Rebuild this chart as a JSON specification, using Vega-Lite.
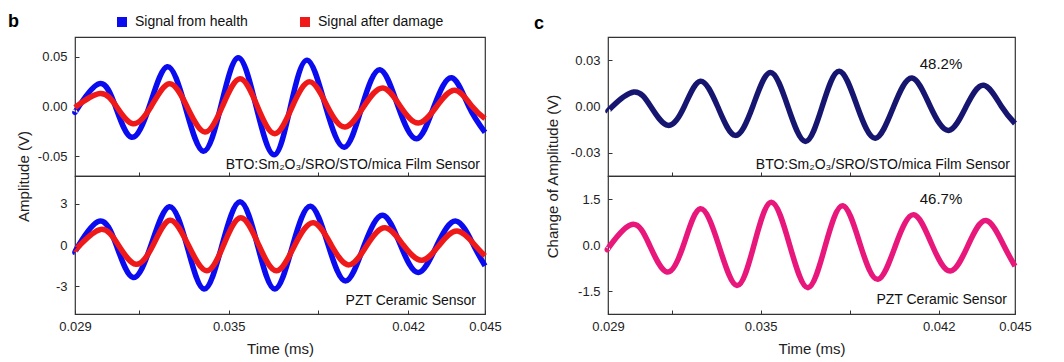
{
  "$schema": "https://vega.github.io/schema/vega-lite/v6.json",
  "padding": {"left": 8, "top": 13, "right": 5, "bottom": 5},
  "background": "white",
  "config": {
    "font": "Liberation Sans",
    "view": {"stroke": "#333", "strokeWidth": 1.2},
    "axis": {"domain": false, "grid": false, "tickSize": -4, "tickColor": "#333", "tickWidth": 1, "labelFont": "Liberation Sans", "labelFontSize": 13, "labelColor": "#222", "titleFont": "Liberation Sans", "titleFontSize": 15, "titleFontWeight": "normal", "titleColor": "#222", "labelFlush": false, "labelOverlap": false},
    "axisY": {"labelPadding": 12, "titlePadding": 6},
    "axisX": {"labelPadding": 10, "titlePadding": 8},
    "text": {"font": "Liberation Sans", "fontSize": 14, "color": "#111", "baseline": "middle"}
  },
  "datasets": {
    "bTopH": [
      {"t": 0.029, "v": -0.0055}, {"t": 0.02915, "v": 0}, {"t": 0.02995, "v": 0.023}, {"t": 0.03058, "v": 0}, {"t": 0.03121, "v": -0.031}, {"t": 0.0319, "v": 0}, {"t": 0.0326, "v": 0.040}, {"t": 0.0333, "v": 0}, {"t": 0.03401, "v": -0.045}, {"t": 0.03469, "v": 0}, {"t": 0.03537, "v": 0.049}, {"t": 0.03607, "v": 0}, {"t": 0.03677, "v": -0.0487}, {"t": 0.03741, "v": 0}, {"t": 0.03806, "v": 0.0467}, {"t": 0.03878, "v": 0}, {"t": 0.03951, "v": -0.041}, {"t": 0.0402, "v": 0}, {"t": 0.0409, "v": 0.037}, {"t": 0.04161, "v": 0}, {"t": 0.04233, "v": -0.0325}, {"t": 0.04301, "v": 0}, {"t": 0.0437, "v": 0.029}, {"t": 0.04437, "v": 0}, {"t": 0.045, "v": -0.026}
    ],
    "bTopD": [
      {"t": 0.029, "v": -0.001}, {"t": 0.02998, "v": 0.013}, {"t": 0.03062, "v": 0}, {"t": 0.03127, "v": -0.0173}, {"t": 0.03197, "v": 0}, {"t": 0.03268, "v": 0.023}, {"t": 0.03337, "v": 0}, {"t": 0.03407, "v": -0.0257}, {"t": 0.03475, "v": 0}, {"t": 0.03544, "v": 0.028}, {"t": 0.03612, "v": 0}, {"t": 0.0368, "v": -0.0274}, {"t": 0.03748, "v": 0}, {"t": 0.03817, "v": 0.0248}, {"t": 0.03885, "v": 0}, {"t": 0.03954, "v": -0.0207}, {"t": 0.04027, "v": 0}, {"t": 0.04101, "v": 0.0187}, {"t": 0.0417, "v": 0}, {"t": 0.0424, "v": -0.0167}, {"t": 0.04311, "v": 0}, {"t": 0.04383, "v": 0.0164}, {"t": 0.0445, "v": 0}, {"t": 0.045, "v": -0.0122}
    ],
    "bBotH": [
      {"t": 0.029, "v": -0.55}, {"t": 0.02915, "v": 0}, {"t": 0.02995, "v": 1.73}, {"t": 0.03061, "v": 0}, {"t": 0.03127, "v": -2.35}, {"t": 0.03197, "v": 0}, {"t": 0.03268, "v": 2.77}, {"t": 0.03336, "v": 0}, {"t": 0.03404, "v": -3.19}, {"t": 0.03474, "v": 0}, {"t": 0.03544, "v": 3.13}, {"t": 0.03612, "v": 0}, {"t": 0.0368, "v": -3.19}, {"t": 0.0375, "v": 0}, {"t": 0.03819, "v": 2.81}, {"t": 0.03888, "v": 0}, {"t": 0.03957, "v": -2.6}, {"t": 0.04029, "v": 0}, {"t": 0.04101, "v": 2.16}, {"t": 0.0417, "v": 0}, {"t": 0.0424, "v": -1.99}, {"t": 0.04313, "v": 0}, {"t": 0.04387, "v": 1.73}, {"t": 0.04455, "v": 0}, {"t": 0.045, "v": -1.51}
    ],
    "bBotD": [
      {"t": 0.029, "v": -0.31}, {"t": 0.0292, "v": 0}, {"t": 0.03, "v": 1.13}, {"t": 0.03069, "v": 0}, {"t": 0.03138, "v": -1.39}, {"t": 0.03205, "v": 0}, {"t": 0.03271, "v": 1.8}, {"t": 0.03342, "v": 0}, {"t": 0.03414, "v": -1.87}, {"t": 0.0348, "v": 0}, {"t": 0.03547, "v": 1.97}, {"t": 0.03617, "v": 0}, {"t": 0.03687, "v": -1.87}, {"t": 0.03758, "v": 0}, {"t": 0.0383, "v": 1.61}, {"t": 0.039, "v": 0}, {"t": 0.0397, "v": -1.44}, {"t": 0.0404, "v": 0}, {"t": 0.0411, "v": 1.25}, {"t": 0.04181, "v": 0}, {"t": 0.04253, "v": -1.1}, {"t": 0.04322, "v": 0}, {"t": 0.04392, "v": 1.01}, {"t": 0.0446, "v": 0}, {"t": 0.045, "v": -0.79}
    ],
    "cTop": [
      {"t": 0.029, "v": -0.0031}, {"t": 0.02917, "v": 0}, {"t": 0.03001, "v": 0.0094}, {"t": 0.03068, "v": 0}, {"t": 0.03136, "v": -0.0122}, {"t": 0.032, "v": 0}, {"t": 0.03263, "v": 0.0164}, {"t": 0.03331, "v": 0}, {"t": 0.034, "v": -0.0187}, {"t": 0.03469, "v": 0}, {"t": 0.03538, "v": 0.022}, {"t": 0.03607, "v": 0}, {"t": 0.03676, "v": -0.0226}, {"t": 0.03742, "v": 0}, {"t": 0.03809, "v": 0.0229}, {"t": 0.0388, "v": 0}, {"t": 0.03951, "v": -0.0205}, {"t": 0.04023, "v": 0}, {"t": 0.04095, "v": 0.0185}, {"t": 0.04167, "v": 0}, {"t": 0.04239, "v": -0.0155}, {"t": 0.04308, "v": 0}, {"t": 0.04377, "v": 0.0138}, {"t": 0.04447, "v": 0}, {"t": 0.045, "v": -0.011}
    ],
    "cBot": [
      {"t": 0.029, "v": -0.12}, {"t": 0.0291, "v": 0}, {"t": 0.02994, "v": 0.67}, {"t": 0.03063, "v": 0}, {"t": 0.03132, "v": -0.88}, {"t": 0.03197, "v": 0}, {"t": 0.03263, "v": 1.18}, {"t": 0.03335, "v": 0}, {"t": 0.03407, "v": -1.32}, {"t": 0.03474, "v": 0}, {"t": 0.03542, "v": 1.39}, {"t": 0.03614, "v": 0}, {"t": 0.03686, "v": -1.39}, {"t": 0.03755, "v": 0}, {"t": 0.03823, "v": 1.28}, {"t": 0.03892, "v": 0}, {"t": 0.03961, "v": -1.12}, {"t": 0.04031, "v": 0}, {"t": 0.04102, "v": 0.99}, {"t": 0.04174, "v": 0}, {"t": 0.04246, "v": -0.85}, {"t": 0.04316, "v": 0}, {"t": 0.04386, "v": 0.8}, {"t": 0.04455, "v": 0}, {"t": 0.045, "v": -0.69}
    ]
  },
  "hconcat": [
    {
      "title": {"text": "b", "anchor": "start", "frame": "group", "dx": -67, "offset": 5, "fontSize": 18, "fontWeight": "bold", "font": "Liberation Sans", "color": "#000"},
      "spacing": 0,
      "bounds": "flush",
      "vconcat": [
        {
          "width": 410, "height": 139,
          "layer": [
            {
              "data": {"name": "bTopH"},
              "mark": {"type": "line", "interpolate": "natural", "strokeWidth": 5.5},
              "encoding": {
                "x": {"field": "t", "type": "quantitative", "scale": {"domain": [0.029, 0.045], "nice": false, "zero": false}, "axis": {"title": null, "labels": false, "values": [0.0315, 0.035, 0.0385, 0.042]}},
                "y": {"field": "v", "type": "quantitative", "scale": {"domain": [-0.07, 0.07], "nice": false}, "axis": {"title": "Amplitude (V)", "titleY": 139, "values": [-0.05, -0.025, 0, 0.025, 0.05], "format": ".2f", "labelExpr": "indexof([-0.05,0,0.05], datum.value) >= 0 ? replace(datum.label,'\u2212','-') : ''"}},
                "color": {"datum": "Signal from health", "type": "nominal", "scale": {"domain": ["Signal from health", "Signal after damage"], "range": ["#0b0bf0", "#f01919"]},
                  "legend": {"title": null, "orient": "none", "legendX": 40, "legendY": -22, "direction": "horizontal", "symbolType": "square", "symbolSize": 100, "symbolStrokeWidth": 0, "labelFontSize": 14, "labelFont": "Liberation Sans", "labelColor": "#111", "columnPadding": 50, "labelOffset": 6,
                    "encode": {"symbols": {"update": {"fill": {"signal": "scale('color', datum.value)"}, "fillOpacity": {"value": 1}, "strokeWidth": {"value": 0}}}}}}
              }
            },
            {
              "data": {"name": "bTopD"},
              "mark": {"type": "line", "interpolate": "natural", "strokeWidth": 5.5},
              "encoding": {
                "x": {"field": "t", "type": "quantitative"},
                "y": {"field": "v", "type": "quantitative"},
                "color": {"datum": "Signal after damage", "type": "nominal"}
              }
            },
            {
              "data": {"values": [{"t": 0.0448, "v": -0.0594, "label": "BTO:Sm₂O₃/SRO/STO/mica Film Sensor"}]},
              "mark": {"type": "text", "align": "right"},
              "encoding": {"x": {"field": "t", "type": "quantitative"}, "y": {"field": "v", "type": "quantitative"}, "text": {"field": "label"}}
            }
          ]
        },
        {
          "width": 410, "height": 138,
          "layer": [
            {
              "data": {"name": "bBotH"},
              "mark": {"type": "line", "interpolate": "natural", "strokeWidth": 5.5, "color": "#0b0bf0"},
              "encoding": {
                "x": {"field": "t", "type": "quantitative", "scale": {"domain": [0.029, 0.045], "nice": false, "zero": false}, "axis": {"title": "Time (ms)", "values": [0.029, 0.0315, 0.035, 0.0385, 0.042, 0.045], "format": ".3f", "labelExpr": "indexof([0.029,0.035,0.042,0.045], datum.value) >= 0 ? datum.label : ''"}},
                "y": {"field": "v", "type": "quantitative", "scale": {"domain": [-5, 5], "nice": false}, "axis": {"title": null, "values": [-3, 0, 3], "format": "d", "labelExpr": "replace(datum.label,'\u2212','-')"}}
              }
            },
            {
              "data": {"name": "bBotD"},
              "mark": {"type": "line", "interpolate": "natural", "strokeWidth": 5.5, "color": "#f01919"},
              "encoding": {
                "x": {"field": "t", "type": "quantitative"},
                "y": {"field": "v", "type": "quantitative"}
              }
            },
            {
              "data": {"values": [{"t": 0.04465, "v": -4.06, "label": "PZT Ceramic Sensor"}]},
              "mark": {"type": "text", "align": "right"},
              "encoding": {"x": {"field": "t", "type": "quantitative"}, "y": {"field": "v", "type": "quantitative"}, "text": {"field": "label"}}
            }
          ]
        }
      ]
    },
    {
      "title": {"text": "c", "anchor": "start", "frame": "group", "dx": -74, "offset": 3, "fontSize": 18, "fontWeight": "bold", "font": "Liberation Sans", "color": "#000"},
      "spacing": 0,
      "bounds": "flush",
      "vconcat": [
        {
          "width": 407, "height": 139,
          "layer": [
            {
              "data": {"name": "cTop"},
              "mark": {"type": "line", "interpolate": "natural", "strokeWidth": 5.5, "color": "#161670"},
              "encoding": {
                "x": {"field": "t", "type": "quantitative", "scale": {"domain": [0.029, 0.045], "nice": false, "zero": false}, "axis": {"title": null, "labels": false, "values": [0.0315, 0.035, 0.0385, 0.042]}},
                "y": {"field": "v", "type": "quantitative", "scale": {"domain": [-0.045, 0.045], "nice": false}, "axis": {"title": "Change of Amplitude (V)", "titleY": 139, "titlePadding": 10, "values": [-0.03, -0.015, 0, 0.015, 0.03], "format": ".2f", "labelExpr": "indexof([-0.03,0,0.03], datum.value) >= 0 ? replace(datum.label,'\u2212','-') : ''"}}
              }
            },
            {
              "data": {"values": [{"t": 0.0448, "v": -0.0382, "label": "BTO:Sm₂O₃/SRO/STO/mica Film Sensor"}]},
              "mark": {"type": "text", "align": "right"},
              "encoding": {"x": {"field": "t", "type": "quantitative"}, "y": {"field": "v", "type": "quantitative"}, "text": {"field": "label"}}
            },
            {
              "data": {"values": [{"t": 0.04209, "v": 0.0274, "label": "48.2%"}]},
              "mark": {"type": "text", "align": "center", "fontSize": 15},
              "encoding": {"x": {"field": "t", "type": "quantitative"}, "y": {"field": "v", "type": "quantitative"}, "text": {"field": "label"}}
            }
          ]
        },
        {
          "width": 407, "height": 138,
          "layer": [
            {
              "data": {"name": "cBot"},
              "mark": {"type": "line", "interpolate": "natural", "strokeWidth": 5.5, "color": "#e8177b"},
              "encoding": {
                "x": {"field": "t", "type": "quantitative", "scale": {"domain": [0.029, 0.045], "nice": false, "zero": false}, "axis": {"title": "Time (ms)", "values": [0.029, 0.0315, 0.035, 0.0385, 0.042, 0.045], "format": ".3f", "labelExpr": "indexof([0.029,0.035,0.042,0.045], datum.value) >= 0 ? datum.label : ''"}},
                "y": {"field": "v", "type": "quantitative", "scale": {"domain": [-2.25, 2.25], "nice": false}, "axis": {"title": null, "values": [-1.5, -0.75, 0, 0.75, 1.5], "format": ".1f", "labelExpr": "indexof([-1.5,0,1.5], datum.value) >= 0 ? replace(datum.label,'\u2212','-') : ''"}}
              }
            },
            {
              "data": {"values": [{"t": 0.04468, "v": -1.78, "label": "PZT Ceramic Sensor"}]},
              "mark": {"type": "text", "align": "right"},
              "encoding": {"x": {"field": "t", "type": "quantitative"}, "y": {"field": "v", "type": "quantitative"}, "text": {"field": "label"}}
            },
            {
              "data": {"values": [{"t": 0.04209, "v": 1.49, "label": "46.7%"}]},
              "mark": {"type": "text", "align": "center", "fontSize": 15},
              "encoding": {"x": {"field": "t", "type": "quantitative"}, "y": {"field": "v", "type": "quantitative"}, "text": {"field": "label"}}
            }
          ]
        }
      ]
    }
  ],
  "spacing": 32
}
